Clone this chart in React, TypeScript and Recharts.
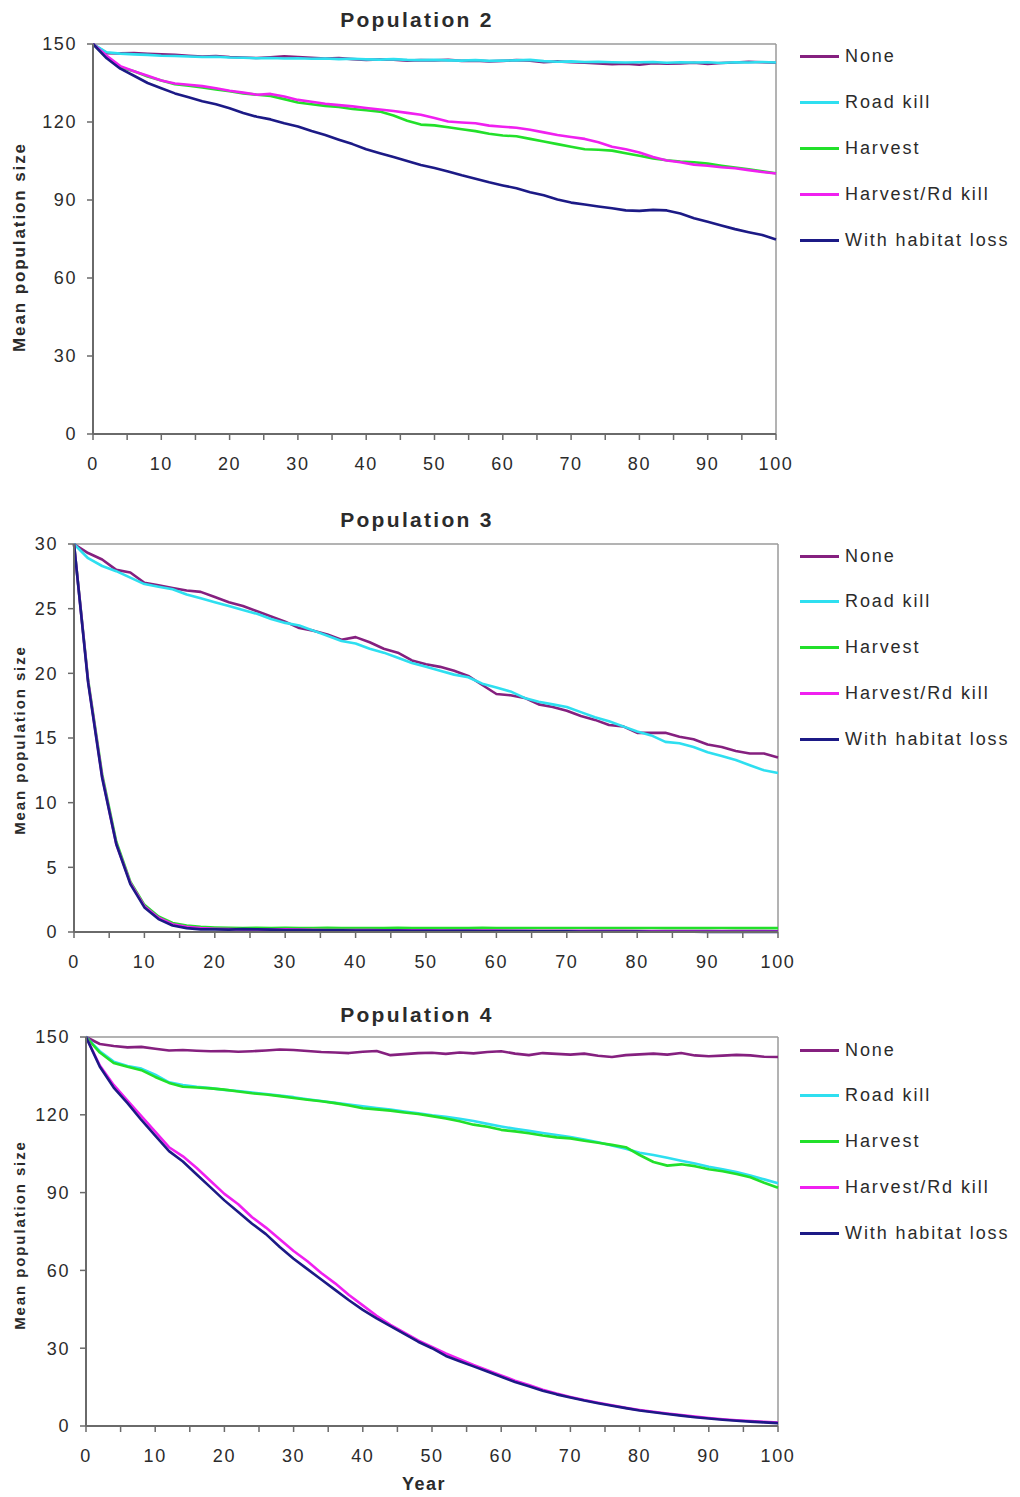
// Three stacked line charts of mean population size under five management scenarios.

import React from 'react';
import { Line, LineChart, ReferenceLine, XAxis, YAxis } from 'recharts';

const years = [
  0, 2, 4, 6, 8, 10, 12, 14, 16, 18, 20, 22, 24, 26, 28, 30, 32, 34, 36, 38, 40, 42, 44, 46, 48, 50,
  52, 54, 56, 58, 60, 62, 64, 66, 68, 70, 72, 74, 76, 78, 80, 82, 84, 86, 88, 90, 92, 94, 96, 98, 100,
];

const seriesNames = ['None', 'Road kill', 'Harvest', 'Harvest/Rd kill', 'With habitat loss'];
const seriesColors = ['#85207f', '#2edff0', '#22e02a', '#f020f0', '#1c1a86'];

const xTicks = [0, 5, 10, 15, 20, 25, 30, 35, 40, 45, 50, 55, 60, 65, 70, 75, 80, 85, 90, 95, 100];
const bigYTicks = [0, 30, 60, 90, 120, 150];
const smallYTicks = [0, 5, 10, 15, 20, 25, 30];

// Population 2
const p2None = [
  150, 146.5, 146.4, 146.5, 146.2, 146.0, 145.8, 145.5, 145.2, 145.4,
  145.0, 144.8, 144.6, 144.9, 145.3, 145.0, 144.7, 144.4, 144.6, 144.2,
  143.9, 144.1, 144.0, 143.6, 143.8, 143.7, 143.9, 143.5, 143.6, 143.3,
  143.5, 143.8, 143.6, 143.0, 143.3, 143.0, 142.8, 142.5, 142.2, 142.4,
  142.0, 142.6, 142.4, 142.5, 142.8, 142.3, 142.7, 142.9, 143.2, 143.0,
  142.8,
];
const p2Road = [
  150, 146.8, 146.3, 146.0, 145.8, 145.5, 145.4, 145.2, 145.0, 145.1,
  144.8, 144.7, 144.5, 144.6, 144.4, 144.5, 144.3, 144.4, 144.2, 144.3,
  144.1, 144.0, 144.2, 143.9, 143.8, 143.9, 143.7, 143.6, 143.8, 143.5,
  143.6, 143.7, 143.9, 143.4, 143.2, 143.3, 143.1, 143.2, 143.0, 142.9,
  143.0, 143.1, 142.8, 143.0, 142.9, 143.0, 142.7, 143.0, 142.9, 143.1,
  142.9,
];
const p2Harv = [
  150, 145, 141, 139.5, 137.5, 136, 134.5, 134, 133.3, 132.5,
  131.8, 131, 130.5, 130, 128.8, 127.5, 126.8, 126.2, 125.8, 125,
  124.5, 124, 122.5, 120.5, 119, 118.7, 118, 117.2, 116.5, 115.5,
  114.8, 114.5, 113.5, 112.5, 111.5, 110.5, 109.5, 109.3, 109, 108,
  107, 106, 105.3, 104.8, 104.5, 104, 103.2, 102.5, 101.8, 101,
  100.3,
];
const p2HRd = [
  150, 145.5, 141.5, 139.5, 137.8, 136, 134.8, 134.3, 133.8, 133,
  132, 131.3, 130.5, 130.8, 129.8, 128.5, 127.8, 127, 126.5, 126,
  125.4, 124.8, 124.2, 123.5, 122.8, 121.5, 120.2, 119.8, 119.5, 118.6,
  118.2, 117.8, 117, 116, 115, 114.2, 113.5, 112.2, 110.5, 109.5,
  108.3, 106.5, 105.2, 104.5, 103.6, 103.2, 102.6, 102.2, 101.5, 100.8,
  100.2,
];
const p2Hab = [
  150, 144.5, 140.5, 137.8, 135, 133, 131, 129.5, 128, 126.8,
  125.3, 123.5, 122, 121, 119.5, 118.3, 116.5, 115, 113.2, 111.5,
  109.5, 108, 106.5, 105, 103.5, 102.3, 101, 99.5, 98.2, 96.8,
  95.6, 94.5, 93, 91.8, 90.2, 89, 88.3, 87.5, 86.8, 86,
  85.8, 86.2, 86, 84.8, 83, 81.6, 80.2, 78.8, 77.6, 76.5,
  74.8,
];

// Population 3
const p3None = [
  30, 29.3, 28.8, 28.0, 27.8, 27.0, 26.8, 26.6, 26.4, 26.3,
  25.9, 25.5, 25.2, 24.8, 24.4, 24.0, 23.5, 23.3, 23.0, 22.6,
  22.8, 22.4, 21.9, 21.6, 21.0, 20.7, 20.5, 20.2, 19.8, 19.1,
  18.4, 18.3, 18.1, 17.6, 17.4, 17.1, 16.7, 16.4, 16.0, 15.9,
  15.4, 15.4, 15.4, 15.1, 14.9, 14.5, 14.3, 14.0, 13.8, 13.8,
  13.5,
];
const p3Road = [
  30, 28.9, 28.3, 27.9, 27.4, 26.9, 26.7, 26.5, 26.1, 25.8,
  25.5, 25.2, 24.9, 24.6, 24.2, 23.9, 23.7, 23.3, 22.9, 22.5,
  22.3, 21.9, 21.6, 21.2, 20.8, 20.5, 20.2, 19.9, 19.7, 19.2,
  18.9, 18.6, 18.1, 17.8, 17.6, 17.4, 17.0, 16.6, 16.3, 15.9,
  15.5, 15.2, 14.7, 14.6, 14.3, 13.9, 13.6, 13.3, 12.9, 12.5,
  12.3,
];
const p3Harv = [
  30, 19.5, 12.2, 7.0, 3.9, 2.1, 1.2, 0.7, 0.5, 0.4,
  0.35, 0.32, 0.3, 0.32, 0.3, 0.33, 0.3, 0.31, 0.32, 0.3,
  0.3, 0.31, 0.3, 0.32, 0.3, 0.3, 0.31, 0.3, 0.3, 0.32,
  0.3, 0.3, 0.31, 0.3, 0.3, 0.3, 0.31, 0.3, 0.3, 0.3,
  0.3, 0.31, 0.3, 0.3, 0.3, 0.3, 0.31, 0.3, 0.3, 0.3,
  0.3,
];
const p3HRd = [
  30, 19.4, 12.0, 6.8, 3.8, 2.0, 1.1, 0.6, 0.4, 0.3,
  0.25, 0.22, 0.2, 0.2, 0.18, 0.2, 0.18, 0.17, 0.16, 0.16,
  0.15, 0.15, 0.14, 0.14, 0.13, 0.13, 0.12, 0.12, 0.12, 0.11,
  0.11, 0.1, 0.1, 0.1, 0.1, 0.1, 0.09, 0.09, 0.09, 0.09,
  0.08, 0.08, 0.08, 0.08, 0.07, 0.07, 0.07, 0.07, 0.07, 0.07,
  0.06,
];
const p3Hab = [
  30, 19.3, 11.9, 6.8, 3.7, 1.9, 1.0, 0.5, 0.3, 0.2,
  0.2, 0.18, 0.22, 0.2, 0.18, 0.15, 0.15, 0.14, 0.13, 0.13,
  0.12, 0.12, 0.11, 0.11, 0.1, 0.1, 0.1, 0.09, 0.09, 0.08,
  0.08, 0.07, 0.07, 0.06, 0.06, 0.05, 0.04, 0.04, 0.03, 0.03,
  0.03, 0.02, 0.02, 0.02, 0.02, 0.01, 0.01, 0.01, 0.01, 0.01,
  0.01,
];

// Population 4
const p4None = [
  150, 147.3, 146.5, 146.0, 146.2, 145.5, 144.8, 145.0, 144.7, 144.5,
  144.6, 144.3, 144.5, 144.8, 145.2, 145.0, 144.6, 144.2, 144.0, 143.8,
  144.3, 144.6, 143.0, 143.4, 143.8, 143.9, 143.5, 144.0, 143.7, 144.2,
  144.5, 143.6, 143.0, 143.8, 143.5, 143.2, 143.6, 142.8, 142.3, 143.0,
  143.3, 143.6, 143.2, 143.8, 142.9, 142.6, 142.8, 143.1, 142.9, 142.4,
  142.3,
];
const p4Road = [
  150, 144.5, 140.5, 138.8, 137.8, 135.5, 132.5, 131.5, 130.8, 130.3,
  129.6, 129.2, 128.6, 128.0, 127.4, 126.8, 126.0, 125.3, 124.6, 124.0,
  123.3, 122.6, 122.0, 121.3, 120.6, 119.8, 119.2, 118.5, 117.6, 116.5,
  115.5, 114.6, 113.8, 113.0, 112.2, 111.4, 110.5, 109.4, 108.2, 106.9,
  105.4, 104.5, 103.4, 102.3, 101.2, 100.0, 99.0, 97.9, 96.6, 95.1,
  93.6,
];
const p4Harv = [
  150, 144, 140, 138.5, 137.2, 134.6, 132.3, 130.8, 130.5, 130.2,
  129.7, 129.0, 128.3, 127.8, 127.2, 126.5, 125.8, 125.2, 124.5, 123.6,
  122.5, 122.1, 121.6, 120.9, 120.3, 119.5, 118.6, 117.5, 116.2, 115.4,
  114.2, 113.6, 112.9, 112.0, 111.3, 110.9, 110.0, 109.2, 108.4, 107.5,
  104.5, 101.8, 100.4, 100.9, 100.2, 99.0, 98.2, 97.2, 95.9, 93.8,
  91.9,
];
const p4HRd = [
  150, 139, 131.5, 125.5, 119.5, 113.5, 107.5, 104, 99.5, 94.5,
  89.5, 85.5, 80.5, 76.5, 72, 67.5, 63.5, 59, 55, 50.5,
  46.5, 42.5, 39, 36, 33, 30.5, 28, 25.8, 23.5, 21.5,
  19.5, 17.5, 15.8, 14, 12.5, 11.2, 10, 9, 8, 7,
  6.2, 5.5, 4.8, 4.2, 3.6, 3.1, 2.6, 2.2, 1.9, 1.6,
  1.3,
];
const p4Hab = [
  150, 138.5, 130.5, 124.5, 118, 112, 106, 102, 97, 92,
  87, 82.5, 78, 74, 69, 64.5, 60.5, 56.5, 52.5, 48.5,
  44.8, 41.5, 38.5, 35.5, 32.5, 30, 27, 25, 23, 21,
  19, 17, 15.3, 13.6, 12.2, 11, 9.8, 8.8, 7.8, 6.9,
  6, 5.3, 4.6, 4, 3.4, 2.9, 2.4, 2, 1.7, 1.4,
  1.1,
];

const FONT = 'Arial, "Liberation Sans", sans-serif';
const TEXT = '#2b2b2b';

type PanelProps = {
  title: string;
  series: number[][];
  yTicks: number[];
  plot: { left: number; right: number; top: number; bottom: number };
  titleY: number;
  ylabelSize: number;
  ylabelCenter: number;
  legendTop: number;
  legendGap: number;
};

function Panel({
  title,
  series,
  yTicks,
  plot,
  titleY,
  ylabelSize,
  ylabelCenter,
  legendTop,
  legendGap,
}: PanelProps) {
  const rows = years.map((year, i) => {
    const row: Record<string, number> = { year };
    series.forEach((s, k) => {
      row['s' + k] = s[i];
    });
    return row;
  });
  const yMax = yTicks[yTicks.length - 1];
  const yAxisWidth = 62;
  const chartTop = plot.top - 10;
  const chartW = plot.right + 20;
  const chartH = plot.bottom - plot.top + 10 + 50;
  const tickStyle = { fontSize: 18, fill: TEXT, fontFamily: FONT, letterSpacing: 1.6 };

  return (
    <>
      <div
        style={{
          position: 'absolute',
          left: 0,
          width: 834,
          top: titleY - 13,
          textAlign: 'center',
          fontFamily: FONT,
          fontWeight: 'bold',
          fontSize: 21,
          letterSpacing: 2.3,
          color: TEXT,
          lineHeight: '26px',
        }}
      >
        {title}
      </div>
      <div
        style={{
          position: 'absolute',
          left: 20 - 150,
          top: ylabelCenter - 10,
          width: 300,
          height: 20,
          lineHeight: '20px',
          textAlign: 'center',
          transform: 'rotate(-90deg)',
          fontFamily: FONT,
          fontWeight: 'bold',
          fontSize: ylabelSize,
          letterSpacing: 1.9,
          color: TEXT,
        }}
      >
        Mean population size
      </div>
      <div style={{ position: 'absolute', left: 0, top: chartTop }}>
        <LineChart
          width={chartW}
          height={chartH}
          data={rows}
          margin={{ top: 10, right: 20, bottom: 5, left: plot.left - yAxisWidth }}
        >
          <XAxis
            dataKey='year'
            type='number'
            domain={[0, 100]}
            ticks={xTicks}
            interval={0}
            tickFormatter={(v: number) => (v % 10 === 0 ? String(v) : '')}
            tickSize={6}
            tickMargin={17}
            height={45}
            axisLine={{ stroke: '#6a6a6a', strokeWidth: 2 }}
            tickLine={{ stroke: '#6a6a6a', strokeWidth: 1.5 }}
            tick={tickStyle}
          />
          <YAxis
            type='number'
            domain={[0, yMax]}
            ticks={yTicks}
            interval={0}
            width={yAxisWidth}
            tickSize={6}
            tickMargin={10}
            axisLine={{ stroke: '#6a6a6a', strokeWidth: 2 }}
            tickLine={{ stroke: '#6a6a6a', strokeWidth: 1.5 }}
            tick={tickStyle}
          />
          <ReferenceLine y={yMax} stroke='#9a9a9a' strokeWidth={1.5} />
          <ReferenceLine x={100} stroke='#9a9a9a' strokeWidth={1.5} />
          {series.map((_, k) => (
            <Line
              key={k}
              type='linear'
              dataKey={'s' + k}
              stroke={seriesColors[k]}
              strokeWidth={2.6}
              dot={false}
              strokeLinejoin='round'
              isAnimationActive={false}
            />
          ))}
        </LineChart>
      </div>
      {seriesNames.map((name, k) => (
        <div
          key={name}
          style={{
            position: 'absolute',
            left: 800,
            top: legendTop + k * legendGap - 12,
            height: 24,
            display: 'flex',
            alignItems: 'center',
            fontFamily: FONT,
            fontSize: 18,
            letterSpacing: 1.9,
            color: TEXT,
            whiteSpace: 'nowrap',
          }}
        >
          <span
            style={{
              display: 'inline-block',
              width: 39,
              height: 3,
              background: seriesColors[k],
              marginRight: 6,
            }}
          />
          {name}
        </div>
      ))}
    </>
  );
}

export default function App() {
  return (
    <div
      style={{
        position: 'absolute',
        left: 0,
        top: 0,
        width: 1020,
        height: 1497,
        background: '#ffffff',
        overflow: 'hidden',
      }}
    >
      <Panel
        title='Population 2'
        series={[p2None, p2Road, p2Harv, p2HRd, p2Hab]}
        yTicks={bigYTicks}
        plot={{ left: 93, right: 776, top: 44, bottom: 434 }}
        titleY={20}
        ylabelSize={17}
        ylabelCenter={247}
        legendTop={56}
        legendGap={46}
      />
      <Panel
        title='Population 3'
        series={[p3None, p3Road, p3Harv, p3HRd, p3Hab]}
        yTicks={smallYTicks}
        plot={{ left: 74, right: 778, top: 544, bottom: 932 }}
        titleY={520}
        ylabelSize={15}
        ylabelCenter={740}
        legendTop={556}
        legendGap={45.75}
      />
      <Panel
        title='Population 4'
        series={[p4None, p4Road, p4Harv, p4HRd, p4Hab]}
        yTicks={bigYTicks}
        plot={{ left: 86, right: 778, top: 1037, bottom: 1426 }}
        titleY={1015}
        ylabelSize={15}
        ylabelCenter={1235}
        legendTop={1050}
        legendGap={45.75}
      />
      <div
        style={{
          position: 'absolute',
          left: 324,
          width: 200,
          top: 1474,
          textAlign: 'center',
          fontFamily: FONT,
          fontWeight: 'bold',
          fontSize: 18,
          letterSpacing: 1.5,
          color: TEXT,
        }}
      >
        Year
      </div>
    </div>
  );
}
